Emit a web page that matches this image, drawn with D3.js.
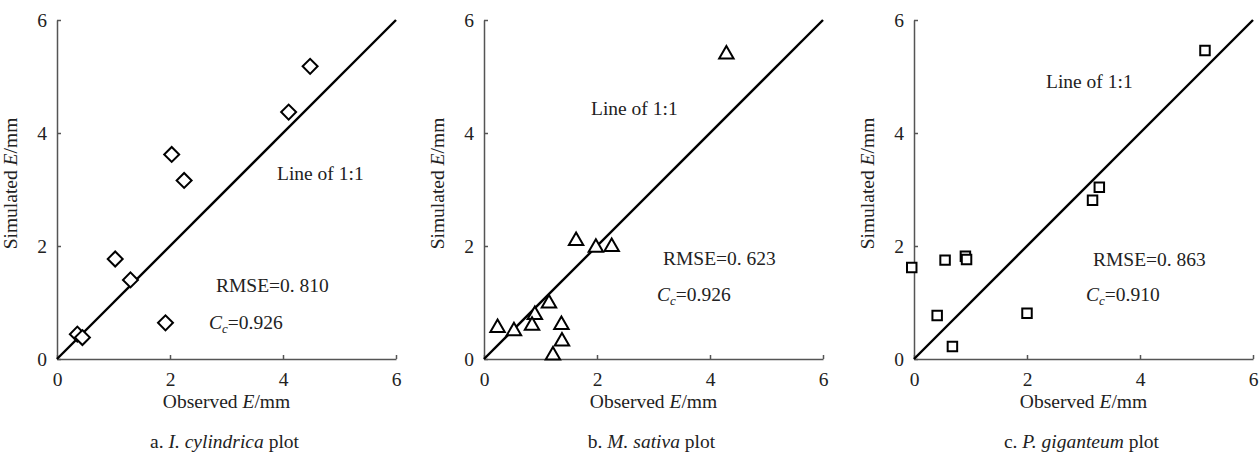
<!DOCTYPE html>
<html><head><meta charset="utf-8">
<script src="https://cdn.jsdelivr.net/npm/d3@7/dist/d3.min.js"></script>
<style>
body{margin:0;background:#fff;}
svg{display:block;}
text{font-family:"Liberation Serif","Times New Roman",serif;fill:#222;}
</style></head><body>
<svg id="c" width="1260" height="452"></svg>
<script>
const ticks = [0, 2, 4, 6];
const tickLabels = ["0", "2", "4", "6"];
// Panel a: I. cylindrica (diamonds)
const aObs = [4.48, 4.10, 2.03, 2.25, 1.03, 1.30, 1.92, 0.36, 0.45];
const aSim = [5.18, 4.37, 3.62, 3.16, 1.77, 1.40, 0.64, 0.44, 0.38];
// Panel b: M. sativa (triangles)
const bObs = [4.29, 1.63, 1.98, 2.26, 1.15, 0.90, 0.85, 0.24, 0.53, 1.37, 1.38, 1.22];
const bSim = [5.42, 2.12, 2.00, 2.01, 1.01, 0.81, 0.62, 0.58, 0.52, 0.63, 0.34, 0.09];
// Panel c: P. giganteum (squares)
const cObs = [5.15, 3.28, 3.16, -0.04, 0.55, 0.91, 0.93, 0.41, 2.00, 0.68];
const cSim = [5.46, 3.04, 2.81, 1.62, 1.75, 1.82, 1.76, 0.77, 0.81, 0.22];
const rmse = ["0. 810", "0. 623", "0. 863"];
const cc = ["0.926", "0.926", "0.910"];
const captions = [["a. ", "I. cylindrica", " plot"], ["b. ", "M. sativa", " plot"], ["c. ", "P. giganteum", " plot"]];

const panels = [
  {x0:57, obs:aObs, sim:aSim, sym:d3.symbolSquare, rot:45, size:112, line:[277,180], rm:[216,292], cc:[209,329]},
  {x0:484, obs:bObs, sim:bSim, sym:d3.symbolTriangle, rot:0, size:90, line:[591,115], rm:[663,265], cc:[657,301]},
  {x0:914, obs:cObs, sim:cSim, sym:d3.symbolSquare, rot:0, size:90, line:[1046,88], rm:[1093,266], cc:[1086,301]}
];
const svg = d3.select("#c");
const FS = 19.5;
panels.forEach((p, i) => {
  const x = d3.scaleLinear().domain([0, 6]).range([p.x0, p.x0 + 339]);
  const y = d3.scaleLinear().domain([0, 6]).range([359, 20]);
  const g = svg.append("g");
  const xa = g.append("g").attr("transform", `translate(0,${y(0)})`)
    .call(d3.axisBottom(x).tickValues(ticks).tickFormat((d, k) => tickLabels[k]).tickSizeInner(-4).tickSizeOuter(0).tickPadding(10));
  const ya = g.append("g").attr("transform", `translate(${x(0)},0)`)
    .call(d3.axisLeft(y).tickValues(ticks).tickFormat((d, k) => tickLabels[k]).tickSizeInner(-4).tickSizeOuter(0).tickPadding(10));
  [xa, ya].forEach(a => {
    a.selectAll("path,line").attr("stroke", "#555").attr("stroke-width", 1.5);
    a.selectAll("text").style("font-size", FS + "px").style("font-family", '"Liberation Serif",serif').attr("fill", "#222");
  });
  xa.selectAll("text").attr("dy", "0.85em");
  // 1:1 line
  g.append("line").attr("x1", x(0)).attr("y1", y(0)).attr("x2", x(6)).attr("y2", y(6))
    .attr("stroke", "#000").attr("stroke-width", 2.4);
  // points
  const sym = d3.symbol().type(p.sym).size(p.size);
  g.selectAll("path.pt").data(p.obs.map((v, k) => [v, p.sim[k]])).enter().append("path")
    .attr("class", "pt").attr("d", sym)
    .attr("transform", d => {
      let yy = y(d[1]);
      if (p.sym === d3.symbolTriangle) yy += 1.5;
      return `translate(${x(d[0])},${yy}) rotate(${p.rot})`;
    })
    .attr("fill", "#fff").attr("stroke", "#000").attr("stroke-width", 2);
  // labels
  const cx = x(3);
  g.append("text").attr("x", cx).attr("y", 408).attr("text-anchor", "middle").style("font-size", FS + "px")
    .html('Observed <tspan font-style="italic">E</tspan>/mm');
  g.append("text").attr("transform", `translate(${p.x0 - 40},${y(3) - 6}) rotate(-90)`).attr("text-anchor", "middle").style("font-size", FS + "px")
    .html('Simulated <tspan font-style="italic">E</tspan>/mm');
  const cap = g.append("text").attr("x", cx - 2).attr("y", 448).attr("text-anchor", "middle").style("font-size", FS + "px");
  cap.append("tspan").text(captions[i][0]);
  cap.append("tspan").attr("font-style", "italic").text(captions[i][1]);
  cap.append("tspan").text(captions[i][2]);
  g.append("text").attr("x", p.line[0]).attr("y", p.line[1]).style("font-size", FS + "px").text("Line of 1:1");
  g.append("text").attr("x", p.rm[0]).attr("y", p.rm[1]).style("font-size", FS + "px").text("RMSE=" + rmse[i]);
  const t = g.append("text").attr("x", p.cc[0]).attr("y", p.cc[1]).style("font-size", FS + "px");
  t.append("tspan").attr("font-style", "italic").text("C");
  t.append("tspan").attr("font-style", "italic").attr("dy", 4).style("font-size", "13px").text("c");
  t.append("tspan").attr("dy", -4).text("=" + cc[i]);
});
</script></body></html>
